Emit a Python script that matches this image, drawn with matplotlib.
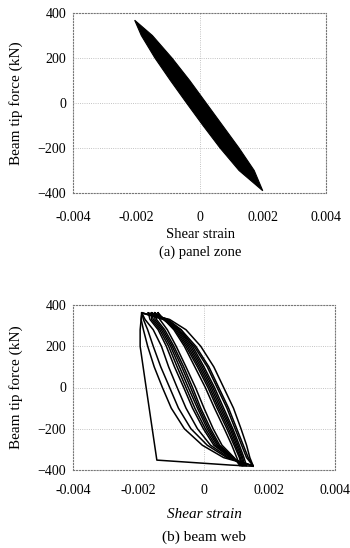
import numpy as np
import matplotlib
matplotlib.use("Agg")
import matplotlib.pyplot as plt

plt.rcParams['font.family'] = ['Liberation Serif', 'DejaVu Serif']

# (a) panel zone: outline of the filled loop band
force_a = [368, 300, 200, 100, 0, -100, -200, -300, -390]
left_a = [-0.00205, -0.00184, -0.00141, -0.00092, -0.00041, 0.00011, 0.00065, 0.00125, 0.00200]
right_a = [-0.00205, -0.00149, -0.00087, -0.00031, 0.00021, 0.00073, 0.00125, 0.00173, 0.00200]

# (b) beam web: loops, each as a right (unloading) and left (reloading) branch
force_b = [362, 330, 280, 200, 100, 0, -100, -200, -280, -340, -380]
loops_right = [
    [-0.0019, -0.00105, -0.00055, -0.0001, 0.0003, 0.0006, 0.0009, 0.00113, 0.0013, 0.0014, 0.0015],
    [-0.0019, -0.0012, -0.0007, -0.00025, 0.00015, 0.00045, 0.00075, 0.001, 0.0012, 0.00135, 0.0015],
    [-0.0019, -0.00125, -0.00078, -0.0003, 0.0001, 0.0004, 0.0007, 0.00095, 0.00115, 0.0013, 0.0015],
    [-0.0017, -0.0011, -0.0007, -0.00035, 0.0, 0.00032, 0.0006, 0.00088, 0.00108, 0.00122, 0.0013],
    [-0.0016, -0.00114, -0.00076, -0.0004, -0.00005, 0.00027, 0.00055, 0.00084, 0.00104, 0.00118, 0.00125],
    [-0.0016, -0.00118, -0.0008, -0.00045, -0.0001, 0.00022, 0.0005, 0.0008, 0.001, 0.00115, 0.0012],
    [-0.0015, -0.0012, -0.00084, -0.0005, -0.00015, 0.00017, 0.00045, 0.00075, 0.00096, 0.00111, 0.00118],
    [-0.0015, -0.00122, -0.00088, -0.00055, -0.0002, 0.00012, 0.0004, 0.0007, 0.00092, 0.00108, 0.00115],
    [-0.0014, -0.00122, -0.00092, -0.0006, -0.00028, 0.00004, 0.00032, 0.00062, 0.00085, 0.001, 0.0011],
]
loops_left = [
    [-0.0019, -0.00192, -0.00185, -0.00172, -0.00152, -0.00127, -0.001, -0.0006, -0.00005, 0.0006, 0.0015],
    [-0.0019, -0.00185, -0.00172, -0.00155, -0.00132, -0.00105, -0.00078, -0.0004, 0.0001, 0.0007, 0.0015],
    [-0.0019, -0.0018, -0.00155, -0.0013, -0.00108, -0.00082, -0.00055, -0.0002, 0.0002, 0.00075, 0.0015],
    [-0.0017, -0.00165, -0.0014, -0.00115, -0.0009, -0.00062, -0.00035, -0.00002, 0.0003, 0.0008, 0.0013],
    [-0.0016, -0.0016, -0.00135, -0.00108, -0.00082, -0.00055, -0.00028, 0.00004, 0.00035, 0.00082, 0.00125],
    [-0.0016, -0.00155, -0.0013, -0.00102, -0.00075, -0.00048, -0.0002, 0.0001, 0.0004, 0.00085, 0.0012],
    [-0.0015, -0.0015, -0.00125, -0.00097, -0.00068, -0.00041, -0.00015, 0.00015, 0.00044, 0.00088, 0.00118],
    [-0.0015, -0.00145, -0.0012, -0.00092, -0.00062, -0.00035, -0.0001, 0.0002, 0.00048, 0.0009, 0.00115],
    [-0.0014, -0.00135, -0.00112, -0.00085, -0.00055, -0.00026, 0.0, 0.00028, 0.00055, 0.00092, 0.0011],
]
# first excursion (nearly straight drop then flat run)
first_strain = [-0.0019, -0.00195, -0.00195, -0.0018, -0.00144, 0.0008, 0.0015]
first_force = [362, 280, 200, 36, -352, -376, -382]

xticks = [-0.004, -0.002, 0, 0.002, 0.004]
xtick_labels = ["-0.004", "-0.002", "0", "0.002", "0.004"]
yticks = [-400, -200, 0, 200, 400]
ylabel = "Beam tip force (kN)"
xlabel = "Shear strain"
captions = ["(a) panel zone", "(b) beam web"]

fig = plt.figure(figsize=(3.5, 5.48), dpi=100)
ax1 = fig.add_axes([73/350, 1 - 193/548, 253/350, 180/548])
ax2 = fig.add_axes([73/350, 1 - 470/548, 262/350, 165/548])

def style(ax, xpad):
    ax.set_xlim(-0.004, 0.004)
    ax.set_ylim(-400, 400)
    ax.set_xticks(xticks)
    ax.set_xticklabels(xtick_labels)
    ax.set_yticks(yticks)
    ax.tick_params(length=0, labelsize=10)
    ax.tick_params(axis="x", pad=xpad)
    ax.tick_params(axis="y", pad=5)
    for s in ax.spines.values():
        s.set_linestyle(":")
        s.set_color("#777777")
        s.set_linewidth(0.8)
    for y in [-200, 0, 200]:
        ax.axhline(y, color="#b0b0b0", lw=0.6, ls=":", zorder=0)
    ax.axvline(0, color="#b0b0b0", lw=0.6, ls=":", zorder=0)
    ax.set_ylabel(ylabel, fontsize=11)

style(ax1, 13)
style(ax2, 10)

ax1.fill(left_a + right_a[::-1], force_a + force_a[::-1], color="black", lw=0.8)
ax1.yaxis.set_label_coords(-0.198, 0.5)

for r, l in zip(loops_right, loops_left):
    ax2.plot(r + l[::-1], force_b + force_b[::-1], color="black", lw=1.1)
ax2.plot(first_strain, first_force, color="black", lw=1.1)
ax2.yaxis.set_label_coords(-0.191, 0.5)

fig.text(200/350, 1 - 235/548, xlabel, ha="center", va="center", fontsize=10.5)
fig.text(200/350, 1 - 252/548, captions[0], ha="center", va="center", fontsize=10.5)
fig.text(204/350, 1 - 515/548, xlabel, ha="center", va="center", fontsize=11, style="italic")
fig.text(204/350, 1 - 537/548, captions[1], ha="center", va="center", fontsize=11)

fig.savefig("out.png", dpi=100)
